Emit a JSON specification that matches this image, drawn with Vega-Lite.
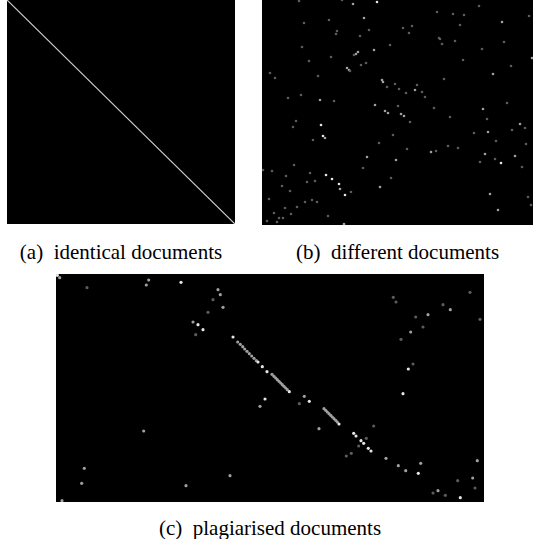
{
  "$schema": "https://vega.github.io/schema/vega-lite/v6.json",
  "background": "white",
  "padding": {"left": 7, "top": 0, "right": 0, "bottom": 0},
  "config": {
    "view": {"fill": "black", "stroke": null},
    "font": "Liberation Serif",
    "title": {"font": "Liberation Serif", "fontSize": 21, "fontWeight": "normal", "color": "black", "orient": "bottom", "baseline": "alphabetic", "anchor": "middle"}
  },
  "datasets": {
    "identical": [{"i": 0, "j": 0}, {"i": 1, "j": 1}],
    "different": [
      {"x":37,"y":1,"v":1},{"x":80,"y":0,"v":1},{"x":91,"y":4,"v":2},{"x":115,"y":2,"v":3},{"x":217,"y":6,"v":1},
      {"x":175,"y":12,"v":1},{"x":191,"y":14,"v":1},{"x":202,"y":15,"v":1},{"x":267,"y":16,"v":1},{"x":240,"y":22,"v":2},
      {"x":42,"y":23,"v":1},{"x":67,"y":20,"v":1},{"x":102,"y":18,"v":2},{"x":198,"y":25,"v":1},{"x":141,"y":28,"v":1},
      {"x":150,"y":26,"v":1},{"x":147,"y":33,"v":1},{"x":107,"y":30,"v":1},{"x":75,"y":31,"v":1},{"x":74,"y":34,"v":1},
      {"x":98,"y":36,"v":1},{"x":177,"y":38,"v":1},{"x":178,"y":39,"v":1},{"x":180,"y":44,"v":1},{"x":193,"y":41,"v":1},
      {"x":242,"y":42,"v":1},{"x":128,"y":45,"v":1},{"x":40,"y":47,"v":1},{"x":220,"y":49,"v":1},{"x":112,"y":50,"v":2},
      {"x":96,"y":52,"v":2},{"x":94,"y":54,"v":2},{"x":92,"y":55,"v":1},{"x":69,"y":57,"v":1},{"x":270,"y":58,"v":2},
      {"x":201,"y":60,"v":1},{"x":47,"y":61,"v":1},{"x":104,"y":63,"v":1},{"x":99,"y":65,"v":1},{"x":249,"y":66,"v":1},
      {"x":85,"y":68,"v":2},{"x":87,"y":70,"v":2},{"x":88,"y":71,"v":1},{"x":8,"y":73,"v":1},{"x":231,"y":74,"v":2},
      {"x":56,"y":76,"v":1},{"x":13,"y":78,"v":1},{"x":182,"y":79,"v":1},{"x":120,"y":80,"v":2},{"x":121,"y":82,"v":2},
      {"x":133,"y":84,"v":1},{"x":155,"y":85,"v":1},{"x":125,"y":87,"v":1},{"x":137,"y":89,"v":1},{"x":153,"y":90,"v":2},
      {"x":160,"y":92,"v":1},{"x":144,"y":93,"v":1},{"x":39,"y":95,"v":1},{"x":163,"y":97,"v":1},{"x":26,"y":98,"v":1},
      {"x":58,"y":100,"v":2},{"x":72,"y":101,"v":1},{"x":245,"y":103,"v":1},{"x":113,"y":105,"v":2},{"x":136,"y":106,"v":1},
      {"x":172,"y":108,"v":1},{"x":221,"y":109,"v":2},{"x":123,"y":111,"v":2},{"x":126,"y":113,"v":2},{"x":139,"y":114,"v":2},
      {"x":142,"y":116,"v":2},{"x":188,"y":117,"v":1},{"x":225,"y":119,"v":1},{"x":34,"y":121,"v":1},{"x":148,"y":122,"v":1},
      {"x":258,"y":124,"v":2},{"x":59,"y":125,"v":3},{"x":31,"y":127,"v":1},{"x":263,"y":128,"v":1},{"x":250,"y":130,"v":1},
      {"x":226,"y":132,"v":2},{"x":212,"y":133,"v":1},{"x":131,"y":135,"v":1},{"x":61,"y":136,"v":3},{"x":63,"y":138,"v":2},
      {"x":51,"y":140,"v":1},{"x":234,"y":141,"v":1},{"x":117,"y":143,"v":1},{"x":264,"y":144,"v":1},{"x":186,"y":146,"v":1},
      {"x":196,"y":148,"v":1},{"x":145,"y":149,"v":1},{"x":174,"y":151,"v":1},{"x":169,"y":152,"v":2},{"x":223,"y":154,"v":2},
      {"x":253,"y":156,"v":2},{"x":105,"y":157,"v":2},{"x":233,"y":159,"v":1},{"x":134,"y":160,"v":2},{"x":218,"y":162,"v":1},
      {"x":239,"y":163,"v":3},{"x":32,"y":165,"v":1},{"x":260,"y":167,"v":1},{"x":101,"y":168,"v":1},{"x":1,"y":170,"v":1},
      {"x":10,"y":171,"v":1},{"x":48,"y":173,"v":1},{"x":64,"y":175,"v":3},{"x":24,"y":176,"v":1},{"x":129,"y":178,"v":1},
      {"x":70,"y":179,"v":3},{"x":53,"y":181,"v":1},{"x":45,"y":182,"v":1},{"x":77,"y":184,"v":3},{"x":20,"y":186,"v":1},
      {"x":118,"y":187,"v":2},{"x":78,"y":189,"v":2},{"x":28,"y":191,"v":1},{"x":89,"y":192,"v":1},{"x":228,"y":194,"v":2},
      {"x":83,"y":195,"v":3},{"x":266,"y":197,"v":1},{"x":7,"y":199,"v":1},{"x":50,"y":200,"v":1},{"x":55,"y":202,"v":1},
      {"x":43,"y":202,"v":1},{"x":269,"y":205,"v":1},{"x":35,"y":207,"v":1},{"x":23,"y":208,"v":1},{"x":236,"y":210,"v":2},
      {"x":12,"y":213,"v":1},{"x":29,"y":214,"v":1},{"x":66,"y":216,"v":1},{"x":17,"y":218,"v":1},{"x":21,"y":218,"v":1},
      {"x":5,"y":221,"v":1},{"x":15,"y":222,"v":1},{"x":82,"y":224,"v":2}
    ],
    "plagiarised": [
      {"x":1.3,"y":1.3,"v":3},{"x":3.7,"y":3.7,"v":2},{"x":31,"y":13.7,"v":1},{"x":92.7,"y":6,"v":2},{"x":90.3,"y":11,"v":2},
      {"x":125,"y":8.3,"v":3},{"x":162,"y":15.7,"v":2},{"x":164.3,"y":20.7,"v":2},{"x":157,"y":25.7,"v":1},{"x":167,"y":33.3,"v":2},
      {"x":152,"y":38.3,"v":1},{"x":137,"y":48,"v":2},{"x":142,"y":50.7,"v":3},{"x":147,"y":55.7,"v":3},{"x":139.7,"y":60.7,"v":1},
      {"x":177,"y":63,"v":3},{"x":181.7,"y":68,"v":2},{"x":184.3,"y":70.3,"v":2},{"x":186.7,"y":72.7,"v":2},{"x":188.7,"y":75,"v":2},
      {"x":191,"y":77.3,"v":2},{"x":193.3,"y":79.7,"v":2},{"x":195.7,"y":82,"v":2},{"x":198,"y":84.3,"v":2},{"x":200.3,"y":86.7,"v":2},
      {"x":202,"y":88,"v":3},{"x":206.3,"y":92.7,"v":3},{"x":211,"y":97.7,"v":3},
      {"x":216,"y":100.3,"v":2},{"x":218,"y":102.3,"v":2},{"x":219.7,"y":104,"v":2},{"x":221.3,"y":105.7,"v":2},{"x":223,"y":107.3,"v":2},
      {"x":224.7,"y":109,"v":2},{"x":226.3,"y":110.7,"v":2},{"x":228,"y":112.3,"v":2},{"x":229.7,"y":114,"v":2},{"x":231.3,"y":115.7,"v":2},
      {"x":233.3,"y":117.7,"v":3},
      {"x":209,"y":125,"v":3},{"x":204,"y":132.3,"v":2},{"x":248.3,"y":122.3,"v":2},{"x":243.3,"y":129.7,"v":1},{"x":253.3,"y":127.3,"v":3},
      {"x":268,"y":134.7,"v":2},{"x":269.7,"y":136.3,"v":2},{"x":271.3,"y":138,"v":2},{"x":273,"y":139.7,"v":2},{"x":274.7,"y":141.3,"v":2},
      {"x":276.3,"y":143,"v":2},{"x":278,"y":144.7,"v":2},{"x":279.7,"y":146.3,"v":2},{"x":281.3,"y":148,"v":2},{"x":283,"y":150,"v":3},
      {"x":263,"y":154.7,"v":2},{"x":317.7,"y":152,"v":1},
      {"x":297.7,"y":159.3,"v":3},{"x":300,"y":162,"v":3},{"x":305,"y":166.7,"v":3},{"x":307.7,"y":169.3,"v":3},{"x":312.3,"y":174.3,"v":3},
      {"x":315,"y":177,"v":3},{"x":310.3,"y":164.3,"v":1},{"x":302.7,"y":172,"v":1},{"x":295.3,"y":179.3,"v":1},{"x":290.3,"y":182,"v":1},
      {"x":330,"y":184.3,"v":2},{"x":342.3,"y":191.7,"v":2},{"x":349.7,"y":196.7,"v":2},{"x":362.3,"y":199.3,"v":3},{"x":364.7,"y":189.3,"v":2},
      {"x":337.3,"y":23.3,"v":1},{"x":340,"y":28,"v":1},{"x":414,"y":18.3,"v":1},{"x":387,"y":30.7,"v":1},{"x":394.3,"y":35.7,"v":2},
      {"x":372,"y":40.7,"v":2},{"x":359.7,"y":43,"v":1},{"x":424,"y":45.3,"v":1},{"x":367,"y":53,"v":1},{"x":354.7,"y":58,"v":2},
      {"x":345,"y":65.3,"v":1},{"x":357,"y":90,"v":1},{"x":352.3,"y":95,"v":3},{"x":347,"y":119.7,"v":3},{"x":421.3,"y":186.7,"v":2},
      {"x":401.7,"y":206.7,"v":1},{"x":416.7,"y":204,"v":2},{"x":419,"y":214,"v":1},{"x":382,"y":216.7,"v":2},{"x":377,"y":219,"v":1},
      {"x":389.3,"y":221.3,"v":1},{"x":404.3,"y":223.7,"v":3},
      {"x":87.7,"y":157,"v":2},{"x":28.3,"y":194.3,"v":2},{"x":25.7,"y":209.3,"v":2},{"x":174,"y":201.7,"v":2},{"x":130,"y":211.7,"v":2},
      {"x":6,"y":226.7,"v":2}
    ]
  },
  "spacing": 11,
  "center": true,
  "vconcat": [
    {
      "spacing": 27,
      "hconcat": [
        {
          "width": 228,
          "height": 224,
          "title": {"text": "(a)\u00a0\u00a0identical documents", "offset": 18, "font": "Liberation Serif"},
          "data": {"name": "identical"},
          "mark": {"type": "line", "color": "#cfcfcf", "strokeWidth": 1.2, "clip": true},
          "encoding": {
            "x": {"field": "i", "type": "quantitative", "scale": {"domain": [0, 1], "nice": false, "zero": false}, "axis": null},
            "y": {"field": "j", "type": "quantitative", "scale": {"domain": [0, 1], "nice": false, "zero": false, "reverse": true}, "axis": null}
          }
        },
        {
          "width": 271,
          "height": 225,
          "title": {"text": "(b)\u00a0\u00a0different documents", "offset": 17, "font": "Liberation Serif"},
          "data": {"name": "different"},
          "mark": {"type": "circle", "size": 7, "opacity": 1, "clip": true},
          "encoding": {
            "x": {"field": "x", "type": "quantitative", "scale": {"domain": [0, 271], "nice": false, "zero": false}, "axis": null},
            "y": {"field": "y", "type": "quantitative", "scale": {"domain": [0, 225], "nice": false, "zero": false, "reverse": true}, "axis": null},
            "color": {"field": "v", "type": "ordinal", "scale": {"domain": [1, 2, 3], "range": ["#5c5c5c", "#a0a0a0", "#e6e6e6"]}, "legend": null}
          }
        }
      ]
    },
    {
      "width": 428,
      "height": 228,
      "title": {"text": "(c)\u00a0\u00a0plagiarised documents", "offset": 16, "font": "Liberation Serif"},
      "data": {"name": "plagiarised"},
      "mark": {"type": "circle", "size": 10, "opacity": 1, "clip": true},
      "encoding": {
        "x": {"field": "x", "type": "quantitative", "scale": {"domain": [0, 428], "nice": false, "zero": false}, "axis": null},
        "y": {"field": "y", "type": "quantitative", "scale": {"domain": [0, 228], "nice": false, "zero": false, "reverse": true}, "axis": null},
        "color": {"field": "v", "type": "ordinal", "scale": {"domain": [1, 2, 3], "range": ["#5c5c5c", "#a0a0a0", "#e6e6e6"]}, "legend": null}
      }
    }
  ]
}
